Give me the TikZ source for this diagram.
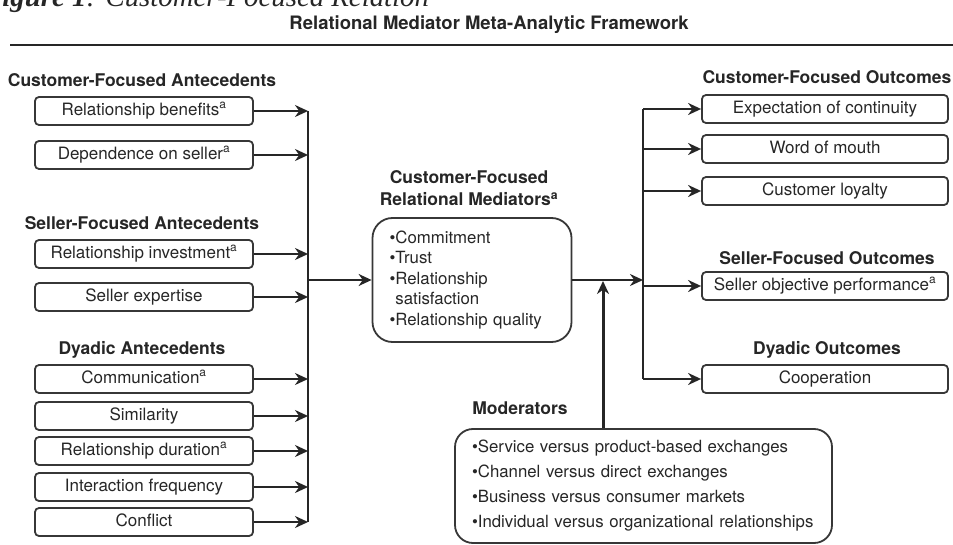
\documentclass[tikz,border=0pt]{standalone}
\usepackage{fontspec}
\setmainfont{TeX Gyre Heros}
\newfontfamily\captfont{Liberation Serif}
\usetikzlibrary{arrows.meta, positioning}
\definecolor{inkgray}{RGB}{38,38,38}
\definecolor{boxgray}{RGB}{55,55,55}
\newcommand\supa{\textsuperscript{a}}

\begin{document}
\begin{tikzpicture}[x=1pt, y=-1pt, color=inkgray, font=\fontsize{17}{20}\selectfont,
    head/.style={font=\fontsize{17.5}{22}\selectfont\bfseries, inner sep=0pt},
    ante/.style={draw=boxgray, line width=1.8pt, rounded corners=4pt, minimum width=218pt,
        minimum height=28pt, inner sep=0pt, text height=12pt, text depth=3.5pt},
    outc/.style={ante, minimum width=246pt},
    bigbox/.style={draw=boxgray, line width=1.8pt, align=left, inner ysep=0pt},
    arr/.style={-{Stealth[length=13pt,width=12pt]}, line width=2.4pt},
    bus/.style={line width=2.2pt}]
    \useasboundingbox (0,0) rectangle (953,545);
    \clip (0,0) rectangle (953,545);

    % caption and title
    \node[anchor=base west, inner sep=0pt, font=\fontsize{28.8}{30}\selectfont\captfont\itshape]
        (capt) at (-17,7) {\textbf{Figure 1}: Customer-Focused Relation};
    \node[font=\fontsize{18.5}{22}\selectfont\bfseries] (title) at (489,25)
        {Relational Mediator Meta-Analytic Framework};
    \coordinate (rulel) at (10,45);
    \coordinate (ruler) at (953,45);
    \draw[line width=2.6pt] (rulel) -- (ruler);

    % antecedents
    \node[head] (cfa) at (142,80) {Customer-Focused Antecedents};
    \node[head] (sfa) at (142,223) {Seller-Focused Antecedents};
    \node[head] (dya) at (142,350) {Dyadic Antecedents};
    \coordinate (lbus) at (308,280);
    \foreach \nm/\y/\txt in {
        benef/111/{Relationship benefits\supa},
        depend/155/{Dependence on seller\supa},
        invest/254/{Relationship investment\supa},
        expert/297/{Seller expertise},
        commun/379/{Communication\supa},
        simil/416/{Similarity},
        durat/451/{Relationship duration\supa},
        freq/487/{Interaction frequency},
        confl/522/{Conflict}}
    {
        \node[ante] (\nm) at (144,\y) {\txt};
        \draw[arr] (\nm.east) -- (\nm.east -| lbus);
    }
    \draw[bus] (benef.east -| lbus) -- (confl.east -| lbus);

    % mediators
    \node[head, align=center, font=\fontsize{17.5}{22}\selectfont\bfseries] (medt) at (469,188)
        {Customer-Focused\\Relational Mediators\supa};
    \node[bigbox, rounded corners=20pt, minimum width=199pt, minimum height=124pt,
        text width=165pt, inner xsep=17pt, font=\fontsize{16.8}{20.5}\selectfont] (med) at (472,280)
        {\textbullet Commitment\\ \textbullet Trust\\ \textbullet Relationship\\
         \hphantom{\textbullet}satisfaction\\ \textbullet Relationship quality};
    \draw[arr] (lbus) -- (med.west);

    % outcomes
    \node[head] (cfo) at (827,77) {Customer-Focused Outcomes};
    \node[head] (sfo) at (827,258) {Seller-Focused Outcomes};
    \node[head] (dyo) at (827,350) {Dyadic Outcomes};
    \coordinate (rbus) at (643,280);
    \draw[arr] (med.east) -- (rbus);
    \foreach \nm/\y/\txt in {
        contin/109/{Expectation of continuity},
        mouth/149/{Word of mouth},
        loyal/191/{Customer loyalty},
        perf/286/{Seller objective performance\supa},
        coop/379/{Cooperation}}
    {
        \node[outc] (\nm) at (825,\y) {\txt};
        \draw[arr, line width=2pt] (\nm.west -| rbus) -- (\nm.west);
    }
    \draw[bus] (contin.west -| rbus) -- (coop.west -| rbus);

    % moderators
    \node[head] (modt) at (520,408) {Moderators};
    \node[bigbox, rounded corners=18pt, minimum width=377pt, minimum height=114pt,
        text width=355pt, inner xsep=11pt, font=\fontsize{16.8}{25}\selectfont] (mod) at (643.5,486)
        {\hspace*{6pt}\textbullet Service versus product-based exchanges\\
         \hspace*{6pt}\textbullet Channel versus direct exchanges\\
         \hspace*{6pt}\textbullet Business versus consumer markets\\
         \hspace*{6pt}\textbullet Individual versus organizational relationships};
    \coordinate (mjoin) at (603,281);
    \draw[arr, line width=3pt] (mod.north -| mjoin) -- (mjoin);
\end{tikzpicture}
\end{document}
